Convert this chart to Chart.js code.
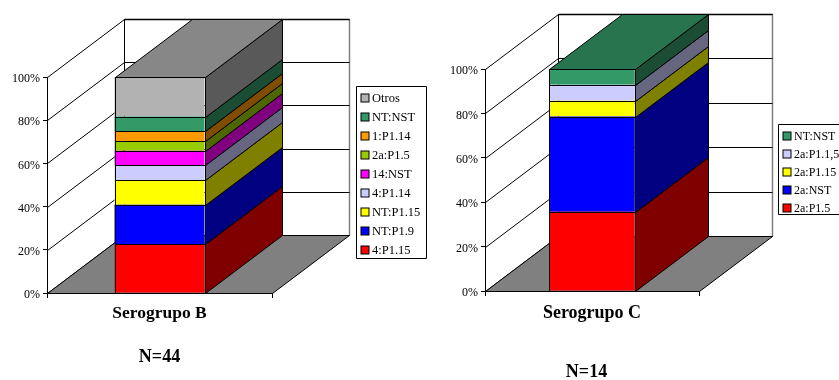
<!DOCTYPE html>
<html>
<head>
<meta charset="utf-8">
<title>Serogrupos B y C</title>
<script src="https://cdn.jsdelivr.net/npm/chart.js@4/dist/chart.umd.min.js"></script>
<style>
    html, body { margin: 0; background: #fff; overflow: hidden; }
    canvas { position: absolute; top: 0; }
    #serogrupoB { left: 0; }
    #serogrupoC { left: 430px; }
</style>
</head>
<body>
<canvas id="serogrupoB" width="430" height="380"></canvas>
<canvas id="serogrupoC" width="409" height="380"></canvas>
<script>
const ticksPorcentaje = [0, 20, 40, 60, 80, 100];

const categoriaB = ['Serogrupo B'];
const fenotiposB = ['4:P1.15', 'NT:P1.9', 'NT:P1.15', '4:P1.14', '14:NST', '2a:P1.5', '1:P1.14', 'NT:NST', 'Otros'];
const valoresB = [22.7, 18.2, 11.4, 6.8, 6.8, 4.5, 4.5, 6.8, 18.3];
const coloresB = ['#ff0000', '#0000ff', '#ffff00', '#ccccff', '#ff00ff', '#99cc00', '#ff9900', '#339966', '#b2b2b2'];

const categoriaC = ['Serogrupo C'];
const fenotiposC = ['2a:P1.5', '2a:NST', '2a:P1.15', '2a:P1.1,5', 'NT:NST'];
const valoresC = [35.7, 42.9, 7.1, 7.2, 7.1];
const coloresC = ['#ff0000', '#0000ff', '#ffff00', '#ccccff', '#339966'];

const FUENTE = '"Liberation Serif", "Times New Roman", serif';

function oscurecer(hex, f) {
    const n = parseInt(hex.slice(1), 16);
    const r = Math.round((n >> 16) * f), g = Math.round(((n >> 8) & 255) * f), b = Math.round((n & 255) * f);
    return `rgb(${r}, ${g}, ${b})`;
}

// Ajusta una coordenada al centro del pixel para que las lineas salgan nitidas
const px = v => Math.round(v) + 0.5;

function poligono(ctx, puntos, relleno, borde, grosor) {
    ctx.beginPath();
    puntos.forEach((p, i) => i ? ctx.lineTo(p[0], p[1]) : ctx.moveTo(p[0], p[1]));
    ctx.closePath();
    if (relleno) { ctx.fillStyle = relleno; ctx.fill(); }
    ctx.strokeStyle = borde;
    ctx.lineWidth = grosor;
    ctx.stroke();
}

function linea(ctx, x1, y1, x2, y2, color, grosor) {
    ctx.beginPath();
    ctx.moveTo(x1, y1);
    ctx.lineTo(x2, y2);
    ctx.strokeStyle = color;
    ctx.lineWidth = grosor;
    ctx.stroke();
}

// Paredes, suelo y lados de la columna en perspectiva
const caja3d = {
    id: 'caja3d',
    beforeDatasetsDraw(chart, args, opts) {
        const { ctx, chartArea: { left, right, top, bottom }, scales: { y } } = chart;
        const { dx, dy } = opts;
        const xi = px(left), xd = px(right), yb = px(bottom);
        ctx.save();
        // pared del fondo y pared izquierda
        poligono(ctx, [[xi + dx, px(top) + dy], [xd + dx, px(top) + dy], [xd + dx, yb + dy], [xi + dx, yb + dy]], '#fff', '#000', 1);
        linea(ctx, xd + dx, px(top) + dy, xd + dx, yb + dy, '#808080', 1.5);
        linea(ctx, xi + dx, px(top) + dy, xd + dx, px(top) + dy, '#000', 1.5);
        y.ticks.forEach(t => {
            const py = px(y.getPixelForValue(t.value));
            linea(ctx, xi, py, xi + dx, py + dy, '#000', 1);
            if (t.value > 0 && t.value < 100) {
                linea(ctx, xi + dx, py + dy, xd + dx, py + dy, '#000', 1);
            }
        });
        // suelo
        poligono(ctx, [[xi, yb], [xd, yb], [xd + dx, yb + dy], [xi + dx, yb + dy]], '#808080', '#000', 1);
        ctx.restore();
    },
    afterDatasetsDraw(chart, args, opts) {
        const { ctx } = chart;
        const { dx, dy } = opts;
        ctx.save();
        chart.data.datasets.forEach((ds, i) => {
            const bar = chart.getDatasetMeta(i).data[0];
            const xi = px(bar.x - bar.width / 2), xd = px(bar.x + bar.width / 2);
            const ya = px(bar.y), yb = px(bar.base);
            // contorno del frente
            poligono(ctx, [[xi, ya], [xd, ya], [xd, yb], [xi, yb]], null, '#000', 1);
            poligono(ctx, [[xd, ya], [xd + dx, ya + dy], [xd + dx, yb + dy], [xd, yb]],
                oscurecer(ds.backgroundColor, 0.5), '#000', 1);
            if (i === chart.data.datasets.length - 1) {
                poligono(ctx, [[xi, ya], [xd, ya], [xd + dx, ya + dy], [xi + dx, ya + dy]],
                    oscurecer(ds.backgroundColor, 0.76), '#000', 1);
            }
        });
        ctx.restore();
    }
};

// Leyenda enmarcada (en orden inverso a la pila) y texto con el tamaño de muestra
const rotulos = {
    id: 'rotulos',
    afterDraw(chart, args, opts) {
        const { ctx, chartArea } = chart;
        const { x, y, ancho, alto, paso, letra } = opts.leyenda;
        ctx.save();
        poligono(ctx, [[x, y], [x + ancho, y], [x + ancho, y + alto], [x, y + alto]], '#fff', '#000', 1);
        ctx.font = `${letra}px ${FUENTE}`;
        ctx.textBaseline = 'middle';
        ctx.textAlign = 'left';
        chart.data.datasets.slice().reverse().forEach((ds, i) => {
            const cy = y + 11.5 + i * paso;
            ctx.fillStyle = ds.backgroundColor;
            ctx.fillRect(x + 4.5, cy - 4, 8, 8);
            ctx.strokeStyle = '#000';
            ctx.lineWidth = 1;
            ctx.strokeRect(x + 4.5, cy - 4, 8, 8);
            ctx.fillStyle = '#000';
            ctx.fillText(ds.label, x + 15.5, cy + 0.5);
        });
        ctx.font = `bold ${opts.tamN}px ${FUENTE}`;
        ctx.textAlign = 'center';
        ctx.fillText(opts.muestra, (chartArea.left + chartArea.right) / 2 + opts.desvioN, opts.yN);
        ctx.restore();
    }
};

function crearGrafico(id, categoria, fenotipos, valores, colores, caja) {
    return new Chart(document.getElementById(id), {
        type: 'bar',
        data: {
            labels: categoria,
            datasets: fenotipos.map((nombre, i) => ({
                label: nombre,
                data: [valores[i]],
                backgroundColor: colores[i],
                borderWidth: 0,
                barPercentage: 0.4,
                categoryPercentage: 1
            }))
        },
        plugins: [caja3d, rotulos],
        options: {
            responsive: false,
            animation: false,
            layout: { padding: { left: 0, top: caja.top, right: caja.right, bottom: 0 } },
            plugins: {
                legend: { display: false },
                tooltip: { enabled: false },
                caja3d: { dx: caja.dx, dy: caja.dy },
                rotulos: caja.rotulos
            },
            scales: {
                x: {
                    stacked: true,
                    afterFit(scale) { scale.height = 380 - caja.bottom; },
                    grid: { drawOnChartArea: false, color: '#000', tickColor: '#000', tickLength: 5 },
                    border: { color: '#000', width: 1 },
                    ticks: { color: '#000', padding: caja.aireCategoria, maxRotation: 0, font: { family: FUENTE, size: caja.tamCategoria, weight: 'bold' } }
                },
                y: {
                    stacked: true,
                    min: 0,
                    max: 100,
                    afterFit(scale) { scale.width = caja.left; },
                    afterBuildTicks(scale) { scale.ticks = ticksPorcentaje.map(v => ({ value: v })); },
                    grid: { drawOnChartArea: false, color: '#000', tickColor: '#000', tickLength: 4 },
                    border: { color: '#000', width: 1 },
                    ticks: {
                        color: '#000',
                        padding: 3,
                        labelOffset: 2,
                        font: { family: FUENTE, size: 12 },
                        callback: v => v + '%'
                    }
                }
            }
        }
    });
}

crearGrafico('serogrupoB', categoriaB, fenotiposB, valoresB, coloresB, {
    left: 47, right: 158, top: 77, bottom: 293, dx: 77, dy: -58, tamCategoria: 17.5, aireCategoria: 5,
    rotulos: {
        leyenda: { x: 356.5, y: 86.5, ancho: 70, alto: 172, paso: 19, letra: 12.5 },
        muestra: 'N=44', tamN: 18, desvioN: 0, yN: 357
    }
});

crearGrafico('serogrupoC', categoriaC, fenotiposC, valoresC, coloresC, {
    left: 55, right: 140, top: 69, bottom: 291, dx: 73, dy: -55, tamCategoria: 18, aireCategoria: 6.5,
    rotulos: {
        leyenda: { x: 348.5, y: 124.5, ancho: 70, alto: 90, paso: 18, letra: 12 },
        muestra: 'N=14', tamN: 18, desvioN: -5.5, yN: 372
    }
});
</script>
</body>
</html>
